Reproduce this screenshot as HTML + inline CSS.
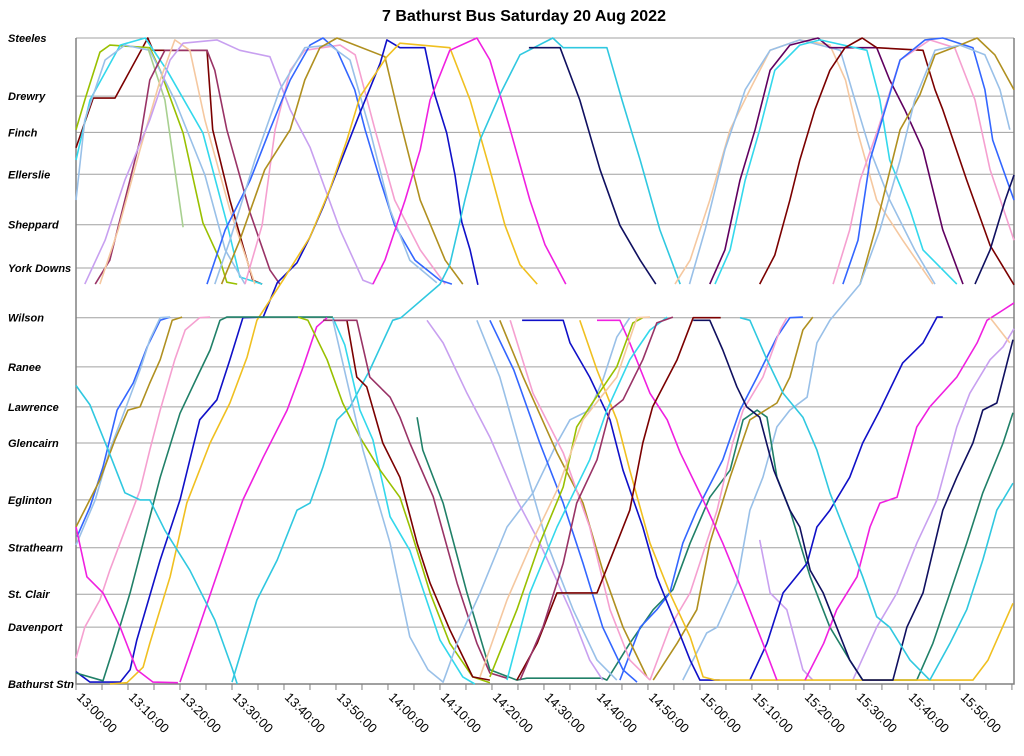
<!DOCTYPE html>
<html><head><meta charset="utf-8"><style>
body{margin:0;background:#fff;}
svg{display:block;font-family:"Liberation Sans",Arial,sans-serif;}
</style></head><body>
<svg id="chart" width="1024" height="756" viewBox="0 0 1024 756" xmlns="http://www.w3.org/2000/svg">
<text x="524" y="21" text-anchor="middle" font-size="16" font-weight="bold">7 Bathurst Bus Saturday 20 Aug 2022</text>
<g id="grid"></g>
<g id="ylabels"></g>
<g id="xaxis"></g>
<g id="series"></g>
</svg>
<script>
const stationNames=["Bathurst Stn","Davenport","St. Clair","Strathearn","Eglinton","Glencairn","Lawrence","Ranee","Wilson","York Downs","Sheppard","Ellerslie","Finch","Drewry","Steeles"];
const stationDist=[0,8.8,13.9,21.1,28.5,37.3,42.9,49.1,56.7,64.4,71.1,78.9,85.4,91,100];
const tickLabels=["13:00:00","13:10:00","13:20:00","13:30:00","13:40:00","13:50:00","14:00:00","14:10:00","14:20:00","14:30:00","14:40:00","14:50:00","15:00:00","15:10:00","15:20:00","15:30:00","15:40:00","15:50:00"];
const tickMinutes=[0,10,20,30,40,50,60,70,80,90,100,110,120,130,140,150,160,170];
const tripColors=["#7b0000","#99c000","#33d8ec","#99c0e8","#a8d090","#993366","#f5c8a0","#c8a0f0","#f5a0d0","#3366ff","#99c0e8","#b09020","#1010c8","#f0c020","#f020e0","#30c8e0","#101060","#f5c8a0","#99c0e8","#600060","#33d8ec","#7b0000","#f5a0d0","#3366ff","#b09020","#99c0e8","#101060",
"#3366ff","#99c0e8","#b09020","#f5a0d0","#208068","#f020e0","#f020e0","#30c8e0","#33d8ec","#99c000","#7b0000","#993366","#208068","#99c0e8","#c8a0f0","#c8a0f0","#c8a0f0","#99c0e8","#3366ff","#3366ff","#b09020","#b09020","#f5a0d0","#f5a0d0","#1010c8","#1010c8","#f0c020","#f020e0","#f020e0","#99c000","#33d8ec","#7b0000","#993366","#f5c8a0","#101060","#30c8e0","#30c8e0","#f5c8a0"];
const trips=[
[[0,83],[3.3,90.7],[7.5,90.7],[13.8,100],[14.8,98.1],[25.2,98.1],[26.3,85.8],[29.6,74.9],[34,62.5],[35.8,61.9]],
[[0,85.8],[1.7,90.4],[4.6,97.8],[6.5,98.9],[14.2,98.5],[16.2,95],[20.6,85.3],[24.4,71.4],[27.7,65.6],[29,62.2],[31,61.9]],
[[0,81.1],[2.7,90.4],[8.5,98.9],[13.3,100],[17.5,95],[24.4,85.3],[29,71.4],[31.5,63],[35.8,61.9]],
[[0,74.9],[1.7,87.3],[5.6,96.6],[9.4,98.9],[14.2,98.1],[19,90.4],[24.8,78.8],[28.7,67.2],[32.5,61.9]],
[[13.8,98.5],[17.1,90.4],[20.6,70.7]],
[[3.7,61.9],[6.5,65.6],[9.4,74.9],[12.3,84.2],[14.2,93.5],[17.1,98.1],[25.2,98.1],[26.7,95],[29,85.8],[33.5,72.9],[37.3,64.1],[39.2,61.9]],
[[4.6,61.9],[8.1,70.3],[12.3,82.7],[16.2,93.5],[19,99.7],[21.9,98.1],[24.8,87.3],[29.6,73.4],[34.4,61.9]],
[[1.7,61.9],[5.6,68.7],[9.4,78],[14.2,87.3],[18.1,96.6],[20.6,99.2],[27.1,99.7],[31.5,98.1],[37.3,97.1],[41.2,88.9],[45,83.1],[50.8,70.3],[55.2,62.5],[57.1,61.9]],
[[32.5,61.9],[35.8,71],[38.3,85.8],[41.2,95],[44,98.1],[50.8,98.9],[53.7,97.4],[57.5,85.8],[61.3,74.9],[66.2,67.2],[71,61.9]],
[[25.2,61.9],[28.7,70.3],[33.5,78],[37.3,85.8],[41.2,93.5],[45,98.9],[47.5,100],[50.2,98.1],[53.6,92],[55.6,85.8],[58.5,78],[61.3,71],[65.2,65.6],[70,62.5],[72.3,61.9]],
[[26.7,61.9],[29.6,68.7],[34.4,81.1],[39.2,92],[44,98.5],[48.8,98.9],[52.7,96.6],[56.5,85.8],[60.4,73.4],[64.2,65.6],[69.4,62.1]],
[[28,61.9],[31.5,68.7],[36.3,79.6],[41.2,85.8],[44,93.5],[46.9,98.5],[50.2,100],[53.7,98.9],[59.4,97.1],[62.3,87.3],[66.2,74.9],[71,65.6],[74.4,61.9]],
[[0,1.9],[2.7,0.3],[8.5,0.3],[10.4,2.2],[11.7,6.8],[16.2,19.2],[20,28.5],[23.8,40.9],[27.1,44],[29.6,50.2],[32.1,56.7],[36,56.8],[38.7,62.1],[42.5,65.2],[45,69.2],[47.5,73.8],[51.3,81.6],[54.6,88.4],[58.5,96.1],[59.8,99.7],[62.3,98.5],[67.1,98.5],[69,91.2],[71.3,85.3],[72.9,78.8],[74.2,71.5],[75.8,67.2],[77.3,61.8]],
[[6.5,0],[9.8,0.2],[12.9,2.6],[14.2,6.3],[18.1,16.6],[21.3,28],[25.8,37.3],[29.6,43.5],[32.9,50.6],[34.8,56.3],[39.8,62.5],[45,69.2],[48.8,76.5],[52.1,84.2],[54.6,90.9],[59.8,97.1],[62.3,99.2],[71.9,98.5],[75.8,90.4],[79.6,79.6],[82.5,71],[85.4,64.9],[88.7,61.9]],
[[57.1,61.9],[59.4,65.6],[63.3,74.9],[66.2,82.7],[68.1,90.4],[71.9,98.1],[77.1,100],[79.6,96.6],[83.5,85.8],[87.3,74.9],[90.2,68],[94.2,61.9]],
[[30,0.3],[34.8,13],[38.7,19.2],[42.5,26.9],[45,28],[47.5,33.6],[50.2,40.9],[52.7,42.9],[56.5,48.6],[60.9,56.3],[62.5,56.7],[70,61.9],[71.9,64.9],[74.8,74.9],[77.7,84.2],[81.5,91.2],[85.4,97.4],[91.7,100],[93.7,98.5],[102.1,98.5],[105,90.4],[108.5,81.1],[112.3,70.3],[116.2,61.9]],
[[87.1,98.5],[93.1,98.5],[96.9,90.4],[100.8,79.6],[104.6,71],[108.5,65.6],[111.5,61.9]],
[[115.2,61.9],[118.1,65.6],[121.9,74.9],[125.8,85.8],[129.6,92],[133.5,98.1],[139.2,99.7],[145,98.9],[148,93.5],[150.2,85.8],[154,74.9],[159,68.7],[164.8,61.9]],
[[118,61.9],[121,70.3],[124.8,82.7],[128.7,92],[133.5,98.1],[139.2,99.7],[147,98.1],[149.8,90.4],[152.7,82.7],[156.5,74.9],[161.3,67.2],[165.2,61.9]],
[[121.9,61.9],[124.8,67.2],[127.7,78],[130.6,85.8],[133.5,95],[137.3,98.9],[142.7,100],[145,98.5],[154,98.5],[156.5,93.5],[159.4,88.9],[162.9,82.7],[166.7,70.3],[170.6,61.9]],
[[122.9,61.9],[125.8,67.2],[128.7,78],[131.5,85.8],[134.4,95],[139.2,98.9],[143.1,99.7],[152.1,98.1],[154.6,90.4],[156.5,81.1],[160.4,73.4],[162.9,67.2],[169.4,61.9]],
[[131.5,61.9],[134.4,66.4],[137.3,74.9],[139.2,81.1],[142.1,88.9],[145,95],[147.9,98.5],[151.2,100],[154,98.5],[162.9,98.1],[165.2,92],[166.7,88.9],[171.3,78],[175.8,67.9],[180.4,61.8]],
[[145.6,61.9],[148.8,70.3],[150.8,78],[154.2,85.8],[158.5,96.6],[164.2,99.7],[169,98.5],[172.9,90.4],[175.8,79.6],[180.4,68.7]],
[[147.5,61.9],[150.4,68.7],[152.7,81.1],[155.6,88.9],[158.5,96.6],[163.3,99.7],[166.7,100],[172.5,98.5],[174.8,92],[176.3,84.2],[180.4,74.9]],
[[150.8,61.9],[153.7,70.3],[155.6,76.5],[158.5,85.8],[162.3,91.2],[165.2,97.4],[170,98.9],[173.3,100],[176.7,97.4],[180.4,92]],
[[116.7,0.6],[121.3,7.9],[123.3,8.8],[127.1,15.6],[129.6,26.9],[132.1,32],[134.8,39.8],[137.3,42.4],[140.6,44.4],[142.5,52.8],[145,56.3],[150.8,61.9],[154.6,70.3],[158.5,81.1],[161.3,90.4],[165.2,98.1],[170,98.9],[174.8,97.4],[177.7,92],[179.6,85.8]],
[[172.9,61.9],[175.8,67.2],[178.7,74.9],[180.4,78.8]],
[[0.2,22.8],[2.7,27.4],[5.2,33.6],[7.9,42.4],[11,46.6],[13.7,52.2],[16.2,56.3],[18.1,56.8]],
[[0,21.5],[3.7,28.5],[6.5,36.2],[9.4,42.4],[12.3,48.6],[14.2,53.3],[16.2,56.7],[18.1,56.8]],
[[0,24.3],[4.6,31.6],[7.5,37.8],[10,42.4],[12.3,42.9],[14.2,46.6],[16.2,50.2],[18.5,56.3],[20.4,56.8]],
[[0,4],[1.7,8.8],[4.6,13],[6.5,17.6],[9.4,23.8],[12.3,30],[14.2,36.2],[16.2,42.4],[19,50.2],[21,54.8],[23.8,56.7],[25.8,56.8]],
[[0,1.7],[5.2,0.5],[7.1,5.3],[10.4,14.1],[12.9,21.8],[16.2,32],[20,41.9],[23.3,47.5],[25.8,51.7],[27.7,56.3],[29,56.8],[49.4,56.8]],
[[0,24.3],[2.1,16.6],[5.2,14.1],[8.5,8.8],[11.7,2.2],[14.8,0.3],[19.6,0.2]],
[[20,0.3],[23.3,7.9],[26.3,15],[29.6,22.8],[32.1,28.5],[36,35.1],[40.6,42.4],[43.7,49.1],[46.3,55.3],[48.3,56.7]],
[[0,46.2],[2.7,43.2],[6.2,36.2],[9.4,29.6],[12.3,28.5],[14.2,28.5],[17.1,23.8],[21.9,17.6],[26.7,9.9],[30,2.5],[31,0]],
[[49.4,56.7],[51.7,52.5],[54.6,42.4],[57.1,37.8],[60.4,25.9],[64.2,20.7],[70,6.8],[74.4,1.1],[76.7,0]],
[[42.7,56.8],[44.6,56.3],[48.3,50.2],[51.3,43.5],[54.6,38.2],[58.5,33.1],[62.3,28.9],[64.2,24.3],[68.1,14.1],[71.9,6.3],[76.3,1.1],[79.6,0.2]],
[[49.4,56.3],[52.1,56.3],[54,47.5],[55.9,46],[59,37.3],[62.3,32],[65.6,21.8],[68.1,15.6],[71.9,8.4],[76.3,1.1],[79.6,0.6]],
[[47.5,56.3],[54,56.3],[56.5,47.5],[60.4,44.4],[62.3,41.3],[64.2,37.3],[68.7,29],[73.3,15.6],[77.1,6.3],[79.6,1.7],[82.9,0.9]],
[[65.6,41.3],[66.7,36.2],[70.6,28],[75.2,14.1],[79.6,2.2],[84.8,0.6],[86.7,0.9],[101.3,0.9],[102.1,0.6],[106.5,6.3],[111,11.5],[114.8,14.6],[118.1,21.8],[121.9,28.9],[125.8,33.1],[128.3,40.9],[131,42.4],[132.9,41.3],[134.8,32],[137.3,26.9],[141.2,16.6],[145,8.8],[148.8,3.7],[151.3,0.6],[156.5,0.6],[161.7,0.6],[164.8,6.3],[168.1,14.1],[171.3,21.8],[174.4,29.6],[178.3,37.3],[180.2,42]],
[[49.4,56.3],[55.2,36.2],[60.4,21.8],[62.3,14.6],[64.2,7.3],[67.7,2.2],[70.6,0.3],[73.3,6.3],[77.7,14.1],[82.9,24.3],[87.9,29.6],[92.5,37.3],[95,40.9],[98.8,42.4],[101.3,47],[104,53.7],[106.5,56.7]],
[[67.5,56.3],[70.6,52.8],[75.2,45],[79.6,38.2],[84.8,28.5],[89.2,21.8],[95,11.5],[98.8,3.7],[101.3,0.6]],
[[131.5,22.3],[133.5,14.1],[136.7,11.5],[139.8,2.2],[141.7,0.6]],
[[149.4,0.6],[154,8.8],[157.9,14.1],[161.7,21.8],[165.6,28.5],[169.4,39.8],[171.9,45],[175.8,50.2],[178.3,52.2],[180.4,55]],
[[77.1,56.3],[81.5,47.5],[86,34.7],[90.6,21.8],[95.6,11.5],[100.2,3.7],[104,0.6]],
[[79.6,56.3],[84.2,48.6],[89.2,37.3],[93.7,28],[97.5,18.7],[101.3,8.8],[105.2,2.2],[107.9,0.3]],
[[104.6,0.6],[108.5,8.8],[111.7,11.5],[114.2,14.1],[116.7,21.8],[119.4,26.9],[124.4,34.7],[127.7,42.4],[131,47.5],[134.8,53.7],[137.3,56.7],[139.8,56.8]],
[[81.5,56.3],[86,47.5],[92.5,35.8],[97.5,28],[101.3,17.6],[105.2,8.8],[109.8,1.1]],
[[111,0.6],[115.6,6.3],[119.4,11.5],[121.9,21.8],[125.8,32],[129.6,40.9],[134.8,43.5],[137.3,47.5],[139.8,54.8],[141.7,56.8]],
[[83.5,56.3],[87.9,45],[93.7,35.8],[98.8,24.3],[102.7,11.5],[106.5,3.7],[110.4,0.6]],
[[110.4,0.6],[114.2,8.8],[118.1,14.1],[123.3,26.9],[126.3,37.3],[128.3,42.4],[132.1,47.5],[135.4,54.8],[136.7,56.7]],
[[85.8,56.3],[93.7,56.3],[95,52.8],[98.8,47.5],[102.7,40.9],[105.2,33.1],[109,24.3],[111.7,16.6],[115.6,8.8],[118.1,3.7],[120,0.6],[123.8,0.6]],
[[129.6,0.6],[132.9,6.3],[136,14.1],[140.6,18.7],[142.5,24.3],[145,26.9],[148.8,32],[151.3,37.3],[154.6,42.4],[159,49.7],[162.9,52.8],[165.6,56.8],[166.7,56.8]],
[[96.9,56.3],[100.2,48.6],[104,40.9],[106.5,33.1],[110.4,21.8],[114.2,14.1],[118.1,7.3],[120.6,1.1],[123,0.6],[150,0.6],[172.5,0.6],[175.4,3.7],[180.2,12.5]],
[[100.2,56.3],[104.6,56.3],[106.5,52.8],[110.4,45],[113.7,40.9],[116.2,35.8],[120.6,28.5],[124.4,21.8],[128.3,14.1],[132.1,6.3],[134.8,0.6]],
[[140.2,0.6],[143.8,6.3],[146.3,11.5],[150.2,16.6],[152.7,24.3],[154.6,28],[157.9,28.9],[161.7,39.8],[164.2,42.9],[169.4,47.5],[173.3,52.8],[175.2,56.3],[178.3,57.9],[180.4,59]],
[[79.6,1.1],[84.8,11.5],[89.2,21.8],[93.7,30.5],[96.3,39.8],[98.8,42.9],[104,49.1],[107.1,55.9],[109,56.7]],
[[82.9,0.6],[87.3,14.1],[92.5,24.3],[98.8,34.7],[102.1,42.4],[106.5,50.2],[110.4,54.8],[113.7,56.8]],
[[84.8,0.6],[88.7,6.3],[92.5,14.1],[100.2,14.1],[104,21.8],[106.5,26.9],[109,37.3],[110.9,42.9],[115.6,50.2],[118.7,56.7],[124,56.7]],
[[85.4,0.6],[89.8,8.8],[93.7,18.7],[96.3,28],[100.2,34.7],[102.7,42.4],[105.2,44],[109,50.2],[111.7,55.9],[114.8,56.8]],
[[77.7,1.1],[82.9,13],[87.9,22.3],[92.5,30],[97.5,40.9],[104,47.5],[107.9,56.7],[110.4,56.8]],
[[118.7,56.3],[121.9,56.3],[124.4,51.7],[127.1,46],[129,42.9],[131.5,41.3],[134.2,33.1],[137.3,26.9],[139.2,24.3],[141.2,17.6],[143.7,14.1],[146.3,8.8],[148.8,3.7],[151.3,0.6],[157.1,0.6],[159.8,8.8],[162.9,14.1],[166.7,26.9],[169.4,32],[172.5,37.3],[174.4,42.4],[177.1,43.5],[180.2,53.3]],
[[127.7,56.7],[129.6,56.3],[132.9,50.2],[136,45],[139.8,41.3],[142.5,36.2],[145,29.6],[148.8,21.8],[151.3,16.6],[154,10.4],[156.5,8.8],[160.4,3.7],[164.2,0.6]],
[[164.2,0.6],[168.1,6.3],[171.3,11.5],[174.4,19.2],[177.1,26.9],[180.2,31.1]],
[[175.8,56.7],[179.6,52.8]]
];
const NS="http://www.w3.org/2000/svg";
const X0=76,X1=1014,Y0=684,Y1=38,TMAX=180.4;
function xs(t){return X0+(X1-X0)*t/TMAX;}
function ys(p){return Y0-(Y0-Y1)*p/100;}
function mk(tag,attrs,parent){const e=document.createElementNS(NS,tag);for(const k in attrs)e.setAttribute(k,attrs[k]);parent.appendChild(e);return e;}
const grid=document.getElementById('grid'),yl=document.getElementById('ylabels'),xa=document.getElementById('xaxis'),sg=document.getElementById('series');
stationDist.forEach((d,i)=>{
  const l=mk('line',{x1:X0,x2:X1,y1:ys(d),y2:ys(d),stroke:'#a0a0a0','stroke-width':1},grid);
  
  
  const t=mk('text',{x:8,y:ys(d)+4,'font-size':11,'font-weight':'bold','font-style':'italic'},yl);
  t.textContent=stationNames[i];
  
  
});
const frame=mk('path',{d:`M${X0},${Y1}V${Y0}H${X1}V${Y1}`,fill:'none',stroke:'#808080','stroke-width':1.5},grid);


for(let m=0;m<=180;m+=5){
  const tk=mk('line',{x1:xs(m),x2:xs(m),y1:Y0,y2:Y0+6,stroke:'#808080','stroke-width':1},xa);
  
  
}
tickLabels.forEach((lab,i)=>{
  const x=xs(tickMinutes[i]);
  const t=mk('text',{x:x,y:Y0+14,'font-size':13,transform:`rotate(45 ${x} ${Y0+14})`},xa);
  t.textContent=lab;
  
  
});
trips.forEach((pts,i)=>{
  const d=pts.map((p,j)=>(j?'L':'M')+xs(p[0]).toFixed(1)+','+ys(p[1]).toFixed(1)).join('');
  const path=mk('path',{d:d,fill:'none',stroke:tripColors[i%tripColors.length],'stroke-width':1.6,'stroke-linejoin':'round'},sg);
  
  
});
</script>
</body></html>
